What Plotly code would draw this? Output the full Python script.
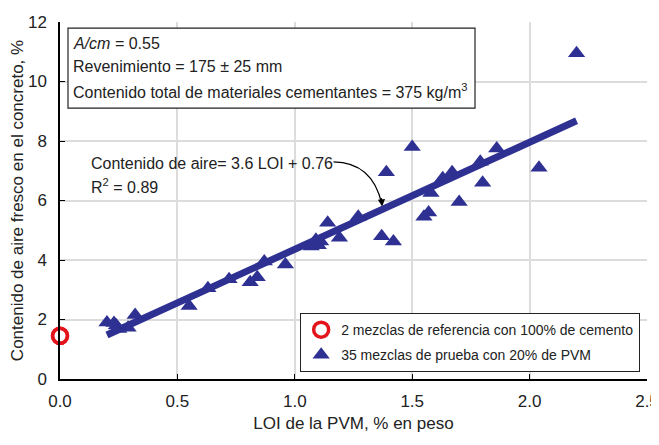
import plotly.graph_objects as go

# reference mixes (100% cement), two overlapping at the same point
ref_loi = [0.0, 0.0]
ref_air = [1.45, 1.45]

# trial mixes with 20% PVM
pvm_loi = [0.20, 0.23, 0.24, 0.25, 0.29, 0.32, 0.55, 0.63, 0.72, 0.81,
           0.84, 0.87, 0.96, 1.07, 1.09, 1.10, 1.11, 1.14, 1.19, 1.27,
           1.37, 1.39, 1.42, 1.50, 1.55, 1.57, 1.58, 1.63, 1.67, 1.70,
           1.79, 1.80, 1.86, 2.04, 2.20]
pvm_air = [1.90, 1.88, 1.80, 1.68, 1.72, 2.15, 2.45, 3.05, 3.35, 3.25,
           3.42, 3.95, 3.85, 4.45, 4.68, 4.50, 4.62, 5.25, 4.75, 5.45,
           4.80, 6.95, 4.62, 7.80, 5.45, 5.60, 6.25, 6.75, 6.95, 5.95,
           7.30, 6.60, 7.75, 7.10, 10.95]

# regression: air = 3.6 LOI + 0.76
fit_slope = 3.6
fit_intercept = 0.76
fit_loi = [0.2, 2.2]
fit_air = [fit_slope * v + fit_intercept for v in fit_loi]

x_ticks = [0.0, 0.5, 1.0, 1.5, 2.0, 2.5]
x_tick_text = ["0.0", "0.5", "1.0", "1.5", "2.0", "2.5"]
y_ticks = [0, 2, 4, 6, 8, 10, 12]

conditions = [
    "<i>A/cm</i> = 0.55",
    "Revenimiento = 175 ± 25 mm",
    "Contenido total de materiales cementantes = 375 kg/m<sup>3</sup>",
]
equation = ["Contenido de aire= 3.6 LOI + 0.76", "R<sup>2</sup> = 0.89"]

BLUE = "#2e3192"
RED = "#e3141b"
FONT = "Liberation Sans Narrow, Arial Narrow, Liberation Sans, sans-serif"
INK = "#222"

fig = go.Figure()
fig.add_trace(go.Scatter(
    x=fit_loi, y=fit_air, mode="lines", showlegend=False,
    line={"color": BLUE, "width": 7},
))
fig.add_trace(go.Scatter(
    x=ref_loi, y=ref_air, mode="markers", legendgroup="ref",
    name="2 mezclas de referencia con 100% de cemento",
    marker={"symbol": "circle-open", "color": RED, "size": 15, "line": {"width": 3.5, "color": RED}},
    cliponaxis=False,
))
fig.add_trace(go.Scatter(
    x=pvm_loi, y=pvm_air, mode="markers", legendgroup="pvm",
    name="35 mezclas de prueba con 20% de PVM",
    marker={"symbol": "triangle-up", "color": BLUE, "size": 15},
))

# curved arrow from the equation label to the fit line
fig.add_shape(type="path", xref="x", yref="y",
              path="M 1.165,7.30 Q 1.33,7.28 1.37,5.90",
              line={"color": "black", "width": 1.2})
fig.add_annotation(x=1.372, y=5.80, xref="x", yref="y", ax=-1, ay=-10,
                   text="", showarrow=True, arrowhead=2, arrowsize=1.2,
                   arrowwidth=1.2, arrowcolor="black")

# framed block with mix conditions
fig.add_shape(type="rect", xref="paper", yref="paper",
              x0=0.0136, x1=0.707, y0=0.759, y1=0.983,
              line={"color": INK, "width": 1.2}, fillcolor="white", layer="above")
for i, line in enumerate(conditions):
    fig.add_annotation(
        x=0.018, y=0.941 - i * 0.067, xref="paper", yref="paper",
        xanchor="left", yanchor="middle", showarrow=False, text=line,
        font={"family": FONT, "size": 16, "color": INK},
    )
for i, line in enumerate(equation):
    fig.add_annotation(
        x=0.05, y=0.605 - i * 0.064, xref="paper", yref="paper",
        xanchor="left", yanchor="middle", showarrow=False, text=line,
        font={"family": FONT, "size": 16, "color": INK},
    )

axis_common = {
    "showline": True, "linecolor": "black", "linewidth": 1.5,
    "gridcolor": "#dcdcdc", "gridwidth": 2,
    "ticks": "inside", "ticklen": 5, "tickcolor": "black",
    "tickfont": {"family": FONT, "size": 17, "color": INK},
    "zeroline": False, "mirror": False, "automargin": False,
    "ticklabeloverflow": "allow",
}
fig.update_xaxes(
    range=[0, 2.5], tickvals=x_ticks, ticktext=x_tick_text, ticklabelstandoff=6,
    title={"text": "LOI de la PVM, % en peso", "font": {"family": FONT, "size": 17, "color": INK},
           "standoff": 26},
    **axis_common,
)
fig.update_yaxes(
    range=[0, 12], tickvals=y_ticks, ticklabelstandoff=8,
    title={"text": "Contenido de aire fresco en el concreto, %",
           "font": {"family": FONT, "size": 17, "color": INK}, "standoff": 8},
    **axis_common,
)
fig.update_layout(
    # page body adds an 8px offset; keep the page short enough to avoid a scrollbar
    width=651, height=425,
    margin={"l": 52, "r": 12, "t": 14, "b": 54},
    plot_bgcolor="white", paper_bgcolor="white",
    showlegend=True,
    legend={
        "x": 0.988, "y": 0.02, "xanchor": "right", "yanchor": "bottom",
        "bordercolor": INK, "borderwidth": 1.2, "bgcolor": "white",
        "font": {"family": FONT, "size": 14, "color": INK},
        "itemwidth": 30, "tracegroupgap": 4,
    },
)
fig.write_html("out.html")
